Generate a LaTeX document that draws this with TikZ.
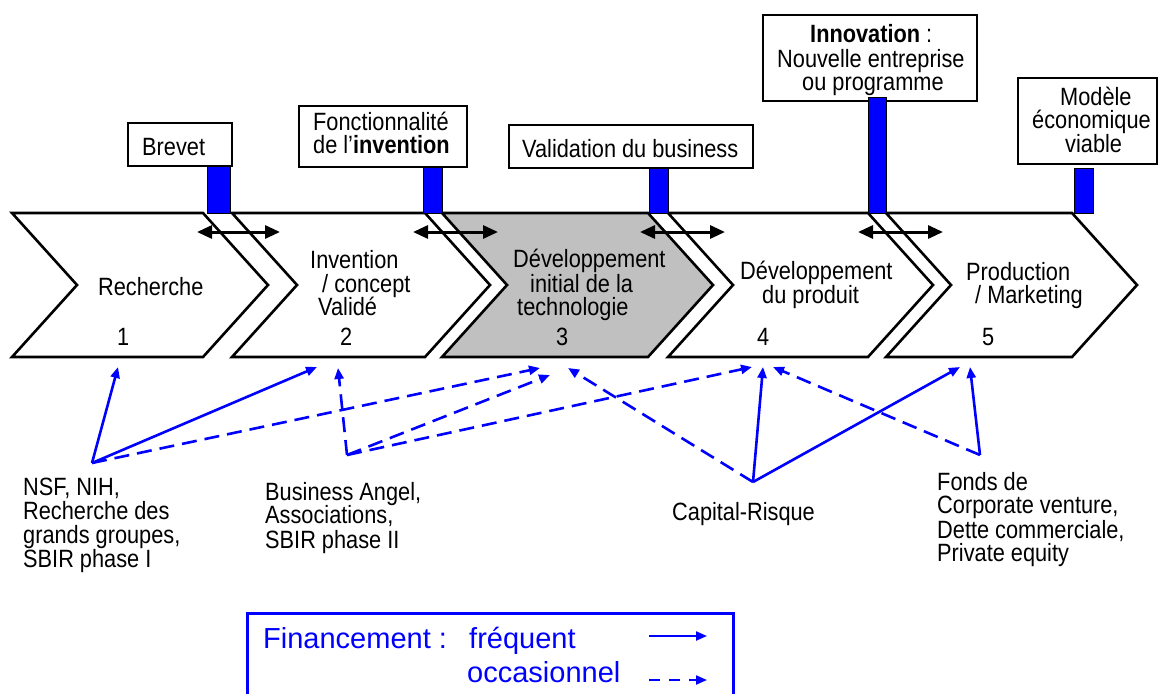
\documentclass[tikz,border=0pt]{standalone}
\usepackage{fontspec}
\setmainfont{Liberation Sans}[FakeStretch=0.87]
\newfontfamily\legendfont{Liberation Sans}
\usetikzlibrary{arrows.meta}
\definecolor{fundblue}{RGB}{0,0,255}
\definecolor{stagegray}{RGB}{192,192,192}

% one stage of the chain: left edge, right edge, extra options
\newcommand\stageshape[3]{%
  \draw[stage,#3] (#1,213) -- (#2,213) -- (#2+65,285) -- (#2,357)
    -- (#1,357) -- (#1+65,285) -- cycle;}

\begin{document}
\begin{tikzpicture}[x=1pt,y=-1pt,
  txt/.style={inner sep=0pt, anchor=base west, font=\fontsize{25}{24}\selectfont},
  legtxt/.style={inner sep=0pt, anchor=base west, text=fundblue,
    font=\legendfont\fontsize{29}{30}\selectfont},
  stage/.style={draw=black, line width=2.6pt, line join=miter, fill=white},
  flag/.style={draw=black, line width=1.2pt, fill=white},
  post/.style={draw=black, line width=0.8pt, fill=fundblue},
  link/.style={black, line width=3pt,
    {Triangle[length=15pt,width=13pt]}-{Triangle[length=15pt,width=13pt]}},
  often/.style={fundblue, line width=2.6pt, -{Triangle[length=11pt,width=9pt]}},
  rare/.style={often, dash pattern=on 15pt off 8pt},
]
\useasboundingbox (0,0) rectangle (1158,693);
\clip (0,0) rectangle (1158,693);

% ---- the five stages
\stageshape{12}{203}{}
\stageshape{232}{425}{}
\stageshape{442}{648}{fill=stagegray}
\stageshape{668}{868}{}
\stageshape{886}{1072}{}

% ---- milestone flags
\draw[flag] (128,123) rectangle (232,166);
\draw[flag] (299,106) rectangle (467,167);
\draw[flag] (509,125) rectangle (753,168);
\draw[flag] (763,15) rectangle (977,101);
\draw[flag] (1018,78) rectangle (1157,164);

% ---- flag posts
\draw[post] (207,166) rectangle (230,213);
\draw[post] (423,167) rectangle (442,213);
\draw[post] (649,168) rectangle (668,213);
\draw[post] (868,97) rectangle (886,213);
\draw[post] (1074,168) rectangle (1093,213);

% ---- transitions between stages
\coordinate (l1a) at (197,232); \coordinate (l1b) at (280,232);
\coordinate (l2a) at (413,232); \coordinate (l2b) at (498,232);
\coordinate (l3a) at (640,232); \coordinate (l3b) at (725,232);
\coordinate (l4a) at (858,232); \coordinate (l4b) at (943,232);
\draw[link] (l1a) -- (l1b);
\draw[link] (l2a) -- (l2b);
\draw[link] (l3a) -- (l3b);
\draw[link] (l4a) -- (l4b);

% ---- stage labels
\node[txt] (s1a) at (98,295) {Recherche};
\node[txt] (s1n) at (117,345) {1};
\node[txt] (s2a) at (310,268) {Invention};
\node[txt] (s2b) at (322,292) {/ concept};
\node[txt] (s2c) at (318,315) {Validé};
\node[txt] (s2n) at (340,345) {2};
\node[txt] (s3a) at (513,267) {Développement};
\node[txt] (s3b) at (530,292) {initial de la};
\node[txt] (s3c) at (517,315) {technologie};
\node[txt] (s3n) at (556,345) {3};
\node[txt] (s4a) at (740,279) {Développement};
\node[txt] (s4b) at (762,303) {du produit};
\node[txt] (s4n) at (757,345) {4};
\node[txt] (s5a) at (966,280) {Production};
\node[txt] (s5b) at (975,303) {/ Marketing};
\node[txt] (s5n) at (982,345) {5};

% ---- flag labels
\node[txt] (f1) at (142,155) {Brevet};
\node[txt] (f2a) at (313,130) {Fonctionnalité};
\node[txt] (f2b) at (313,153) {de l’\textbf{invention}};
\node[txt] (f3) at (522,157) {Validation du business};
\node[txt] (f4a) at (810,42) {\textbf{Innovation} :};
\node[txt] (f4b) at (777,67) {Nouvelle entreprise};
\node[txt] (f4c) at (802,90) {ou programme};
\node[txt] (f5a) at (1060,105) {Modèle};
\node[txt] (f5b) at (1032,128) {économique};
\node[txt] (f5c) at (1065,152) {viable};

% ---- funding sources
\node[txt] (nsf1) at (23,495) {NSF, NIH,};
\node[txt] (nsf2) at (23,519) {Recherche des};
\node[txt] (nsf3) at (23,543) {grands groupes,};
\node[txt] (nsf4) at (23,567) {SBIR phase I};
\node[txt] (ba1) at (265,500) {Business Angel,};
\node[txt] (ba2) at (265,523) {Associations,};
\node[txt] (ba3) at (265,548) {SBIR phase II};
\node[txt] (cr1) at (672,520) {Capital-Risque};
\node[txt] (fd1) at (937,490) {Fonds de};
\node[txt] (fd2) at (937,513) {Corporate venture,};
\node[txt] (fd3) at (937,538) {Dette commerciale,};
\node[txt] (fd4) at (937,561) {Private equity};

% ---- funding flows
\coordinate (nsf) at (92,463);
\coordinate (ba) at (347,455);
\coordinate (cr) at (753,482);
\coordinate (fd) at (980,455);
\coordinate (t1) at (118,367);
\coordinate (t2a) at (317,367);
\coordinate (t2b) at (338,368);
\coordinate (t3a) at (540,368);
\coordinate (t3b) at (550,375);
\coordinate (t3c) at (568,368);
\coordinate (t4a) at (752,367);
\coordinate (t4b) at (763,367);
\coordinate (t4c) at (773,367);
\coordinate (t5a) at (960,367);
\coordinate (t5b) at (970,367);

\draw[often] (nsf) -- (t1);
\draw[often] (nsf) -- (t2a);
\draw[rare] (nsf) -- (t3a);
\draw[rare] (ba) -- (t2b);
\draw[rare] (ba) -- (t3b);
\draw[rare] (ba) -- (t4a);
\draw[often] (cr) -- (t4b);
\draw[often] (cr) -- (t5a);
\draw[rare] (cr) -- (t3c);
\draw[often] (fd) -- (t5b);
\draw[rare] (fd) -- (t4c);

% ---- legend
\draw[fundblue, line width=3pt] (247,613) rectangle (733,710);
\node[legtxt] (lg1) at (263,648) {Financement :};
\node[legtxt] (lg2) at (469,648) {fréquent};
\node[legtxt] (lg3) at (467,682) {occasionnel};
\coordinate (k1a) at (649,636); \coordinate (k1b) at (707,636);
\coordinate (k2a) at (649,680); \coordinate (k2b) at (707,680);
\draw[often, line width=2.2pt] (k1a) -- (k1b);
\draw[rare, line width=2.2pt, dash pattern=on 11pt off 9pt] (k2a) -- (k2b);
\end{tikzpicture}
\end{document}
